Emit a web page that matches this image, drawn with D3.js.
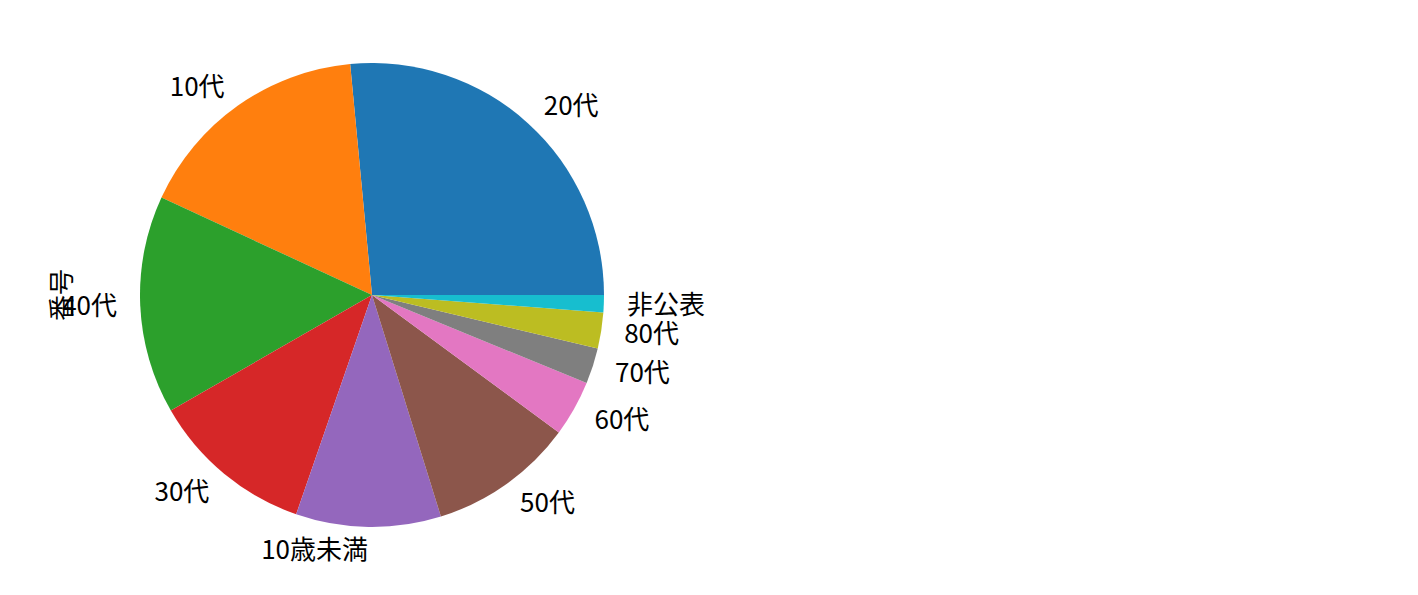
<!DOCTYPE html>
<html>
<head>
<meta charset="utf-8">
<script src="https://cdn.jsdelivr.net/npm/d3@7"></script>
<style>
  body { margin: 0; background: #fff; }
  text { font-family: "Noto Sans CJK JP", "Noto Sans", sans-serif; }
</style>
</head>
<body>
<svg id="chart"></svg>
<script>
// values (counterclockwise from 3 o'clock)
const categories = ["20代", "10代", "40代", "30代", "10歳未満", "50代", "60代", "70代", "80代", "非公表"];
const counts = [265, 166, 152, 114, 101, 101, 39, 25, 25, 12];
const colors = ["#1f77b4", "#ff7f0e", "#2ca02c", "#d62728", "#9467bd",
                "#8c564b", "#e377c2", "#7f7f7f", "#bcbd22", "#17becf"];
const yLabel = "番号";

const width = 1418, height = 595;
const cx = 372, cy = 295, radius = 232;
const fontSize = 26;

const svg = d3.select("#chart").attr("width", width).attr("height", height);
const g = svg.append("g").attr("transform", `translate(${cx},${cy})`);

const data = categories.map((c, i) => ({ name: c, value: counts[i], color: colors[i] }));

// matplotlib style: start at 0deg (east), go counterclockwise
// d3 angles are clockwise from 12 o'clock, so map a -> PI/2 - a
const pie = d3.pie().value(d => d.value).sort(null)
  .startAngle(Math.PI / 2).endAngle(Math.PI / 2 - 2 * Math.PI);

const arc = d3.arc().innerRadius(0).outerRadius(radius);
const arcs = pie(data);

g.selectAll("path")
  .data(arcs)
  .enter()
  .append("path")
  .attr("d", arc)
  .attr("fill", d => d.data.color);

// labels at 1.1 * radius
g.selectAll("text.lbl")
  .data(arcs)
  .enter()
  .append("text")
  .attr("class", "lbl")
  .each(function (d) {
    const mid = (d.startAngle + d.endAngle) / 2;
    const x = Math.sin(mid) * radius * 1.1;
    const y = -Math.cos(mid) * radius * 1.1;
    d3.select(this)
      .attr("x", x)
      .attr("y", y)
      .attr("dy", "0.35em")
      .attr("text-anchor", x > 0 ? "start" : "end");
  })
  .attr("font-size", fontSize)
  .attr("fill", "#000")
  .text(d => d.data.name);

svg.append("text")
  .attr("transform", `translate(71,${cy}) rotate(-90)`)
  .attr("text-anchor", "middle")
  .attr("font-size", fontSize)
  .text(yLabel);
</script>
</body>
</html>
